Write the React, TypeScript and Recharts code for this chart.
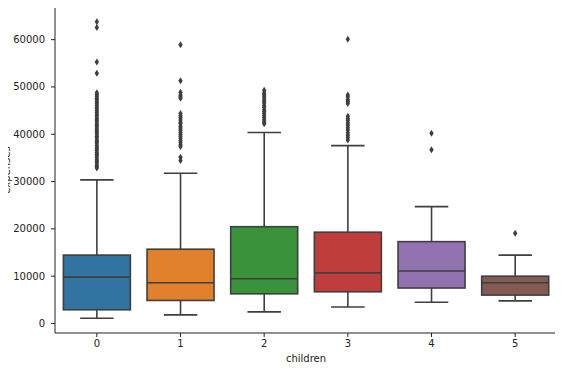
import React from "react";
import {
  ComposedChart,
  Bar,
  Scatter,
  XAxis,
  YAxis,
  Label,
} from "recharts";

// number of children (x categories)
const children = [0, 1, 2, 3, 4, 5];

// box statistics (expenses)
const lowerWhisker = [1122, 1820, 2460, 3500, 4500, 4790];
const q1 = [2900, 4870, 6270, 6700, 7500, 6000];
const median = [9800, 8600, 9450, 10700, 11100, 8600];
const q3 = [14460, 15700, 20460, 19300, 17300, 10000];
const upperWhisker = [30350, 31760, 40370, 37600, 24700, 14460];

// fliers per category
const outliers0 = [
  32850, 33180, 33470, 33900, 34300, 34620, 35070, 35490, 35760, 36150,
  36580, 36900, 37270, 37700, 38130, 38420, 38790, 39240, 39600, 39980,
  40420, 40720, 41100, 41560, 41920, 42300, 42760, 43020, 43400, 43850,
  44200, 44580, 44950, 45350, 45710, 46110, 46580, 46890, 47290, 47600,
  48030, 48420, 48800, 52900, 55300, 62590, 63770,
];
const outliers1 = [
  34450, 35150, 37400, 37800, 38280, 38700, 39130, 39600, 39980, 40420,
  40900, 41300, 41680, 42200, 42560, 43000, 43500, 43930, 44400, 47600,
  47950, 48300, 48900, 51300, 58900,
];
const outliers2 = [
  42200, 42600, 43000, 43500, 43900, 44400, 44800, 45200, 45700, 46100,
  46600, 47000, 47400, 47900, 48300, 48700, 49300,
];
const outliers3 = [
  38800, 39300, 39800, 40300, 40900, 41400, 41900, 42400, 42900, 43300,
  43800, 46500, 46900, 47300, 47900, 48300, 60100,
];
const outliers4 = [36700, 40200];
const outliers5 = [19060];

const outliers = [outliers0, outliers1, outliers2, outliers3, outliers4, outliers5];

const boxColors = ["#3274a1", "#e1812c", "#3a923a", "#c03d3e", "#9372b2", "#845b53"];
const lineColor = "#3f3f3f";
const axisColor = "#222";

const boxData = children.map((c, i) => ({
  children: c,
  range: [lowerWhisker[i], upperWhisker[i]],
  low: lowerWhisker[i],
  q1: q1[i],
  median: median[i],
  q3: q3[i],
  high: upperWhisker[i],
  color: boxColors[i],
}));

const flierData = children.flatMap((c, i) =>
  outliers[i].map((v) => ({ children: c, value: v }))
);

const BoxShape = (props: any) => {
  const { x, y, width, height, payload } = props;
  const { low, high } = payload;
  // map a value inside the whisker range to a pixel, from the bar geometry
  const py = (v: number) => y + (height * (high - v)) / (high - low);
  const cx = x + width / 2;
  const capHalf = width / 4;
  return (
    <g>
      <line x1={cx} x2={cx} y1={py(high)} y2={py(payload.q3)} stroke={lineColor} strokeWidth={1.6} />
      <line x1={cx} x2={cx} y1={py(payload.q1)} y2={py(low)} stroke={lineColor} strokeWidth={1.6} />
      <line x1={cx - capHalf} x2={cx + capHalf} y1={py(high)} y2={py(high)} stroke={lineColor} strokeWidth={1.6} />
      <line x1={cx - capHalf} x2={cx + capHalf} y1={py(low)} y2={py(low)} stroke={lineColor} strokeWidth={1.6} />
      <rect
        x={x}
        y={py(payload.q3)}
        width={width}
        height={py(payload.q1) - py(payload.q3)}
        fill={payload.color}
        stroke={lineColor}
        strokeWidth={1.6}
      />
      <line x1={x} x2={x + width} y1={py(payload.median)} y2={py(payload.median)} stroke={lineColor} strokeWidth={1.6} />
    </g>
  );
};

const Diamond = (props: any) => {
  const { cx, cy } = props;
  return (
    <polygon
      points={`${cx},${cy - 3.5} ${cx + 2.2},${cy} ${cx},${cy + 3.5} ${cx - 2.2},${cy}`}
      fill={lineColor}
    />
  );
};

const YLabel = (props: any) => {
  const { viewBox } = props;
  const x = viewBox.x + 10;
  const y = viewBox.y + viewBox.height / 2;
  return (
    <text
      x={x}
      y={y}
      transform={`rotate(-90, ${x}, ${y})`}
      textAnchor="middle"
      fontSize={10}
      fill={axisColor}
    >
      expenses
    </text>
  );
};

export default function App() {
  return (
    <div
      style={{
        marginLeft: -8,
        marginTop: -8,
        width: 563,
        height: 369,
        background: "#fff",
        fontFamily: "DejaVu Sans",
      }}
    >
      <ComposedChart
        width={563}
        height={369}
        data={boxData}
        margin={{ top: 7, right: 6, bottom: 0, left: 0 }}
        barCategoryGap="10%"
      >
        <XAxis
          dataKey="children"
          type="category"
          allowDuplicatedCategory={false}
          height={36}
          tickSize={4}
          tickMargin={3}
          tick={{ fontSize: 10, fill: axisColor }}
          stroke={axisColor}
          tickLine={{ stroke: axisColor }}
        >
          <Label value="children" position="center" dy={7} fontSize={10} fill={axisColor} />
        </XAxis>
        <XAxis
          xAxisId="top"
          orientation="top"
          type="number"
          domain={[0, 1]}
          height={0}
          tick={false}
          tickLine={false}
          stroke={axisColor}
        />
        <YAxis
          type="number"
          domain={[-2011, 66900]}
          allowDataOverflow
          ticks={[0, 10000, 20000, 30000, 40000, 50000, 60000]}
          width={55}
          tickSize={4}
          tickMargin={6}
          tick={{ fontSize: 10, fill: axisColor }}
          stroke={axisColor}
          tickLine={{ stroke: axisColor }}
        >
          <Label content={<YLabel />} />
        </YAxis>
        <YAxis
          yAxisId="right"
          orientation="right"
          type="number"
          domain={[0, 1]}
          width={0}
          tick={false}
          tickLine={false}
          stroke={axisColor}
        />
        <Bar dataKey="range" shape={<BoxShape />} isAnimationActive={false} />
        <Scatter data={flierData} dataKey="value" shape={<Diamond />} isAnimationActive={false} />
      </ComposedChart>
    </div>
  );
}
